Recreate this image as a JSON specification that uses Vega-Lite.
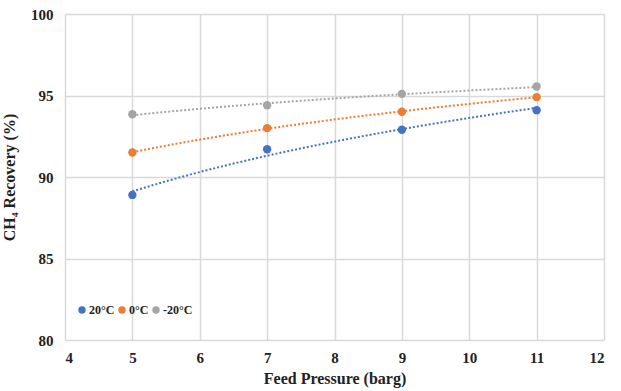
{
  "$schema": "https://vega.github.io/schema/vega-lite/v6.json",
  "width": 539,
  "height": 326,
  "autosize": {"type": "none"},
  "padding": {"left": 65, "top": 14, "right": 17, "bottom": 51},
  "background": "white",
  "config": {
    "view": {"stroke": null},
    "font": "Liberation Serif",
    "axis": {"labelFont": "Liberation Serif", "titleFont": "Liberation Serif", "labelFontWeight": "bold", "titleFontWeight": "bold", "labelColor": "#222", "titleColor": "#222", "gridColor": "#d9d9d9", "gridWidth": 1.5, "domain": false, "ticks": false}
  },
  "data": {
    "values": [
      {"p": 5, "r": 88.9, "s": "20°C"},
      {"p": 7, "r": 91.7, "s": "20°C"},
      {"p": 9, "r": 92.9, "s": "20°C"},
      {"p": 11, "r": 94.1, "s": "20°C"},
      {"p": 5, "r": 91.5, "s": "0°C"},
      {"p": 7, "r": 93.0, "s": "0°C"},
      {"p": 9, "r": 94.0, "s": "0°C"},
      {"p": 11, "r": 94.9, "s": "0°C"},
      {"p": 5, "r": 93.85, "s": "-20°C"},
      {"p": 7, "r": 94.4, "s": "-20°C"},
      {"p": 9, "r": 95.1, "s": "-20°C"},
      {"p": 11, "r": 95.55, "s": "-20°C"}
    ]
  },
  "encoding": {
    "x": {"field": "p", "type": "quantitative", "scale": {"domain": [4, 12], "nice": false}, "axis": {"title": "Feed Pressure (barg)", "values": [4,5,6,7,8,9,10,11,12], "labelFontSize": 15, "titleFontSize": 16, "labelPadding": 10, "titlePadding": 5}},
    "y": {"field": "r", "type": "quantitative", "scale": {"domain": [80, 100], "nice": false, "zero": false}, "axis": {"title": "CH₄ Recovery (%)", "values": [80, 85, 90, 95, 100], "labelFontSize": 15, "titleFontSize": 16, "labelPadding": 12, "titlePadding": 13}},
    "color": {"field": "s", "type": "nominal", "scale": {"domain": ["20°C", "0°C", "-20°C"], "range": ["#4472C4", "#ED7D31", "#A5A5A5"]},
      "legend": {"title": null, "orient": "none", "legendX": 11, "legendY": 290, "direction": "horizontal", "symbolType": "circle", "symbolSize": 55, "symbolOpacity": 1, "symbolStrokeWidth": 0, "labelFont": "Liberation Serif", "labelFontWeight": "bold", "labelFontSize": 12, "labelColor": "#222", "columnPadding": 1, "symbolOffset": 0, "labelOffset": 1}}
  },
  "layer": [
    {
      "transform": [{"regression": "r", "on": "p", "groupby": ["s"], "method": "log", "extent": [5, 11]}],
      "mark": {"type": "line", "strokeDash": [2, 2], "strokeWidth": 2, "interpolate": "monotone"}
    },
    {
      "mark": {"type": "circle", "size": 70, "opacity": 1}
    }
  ]
}
